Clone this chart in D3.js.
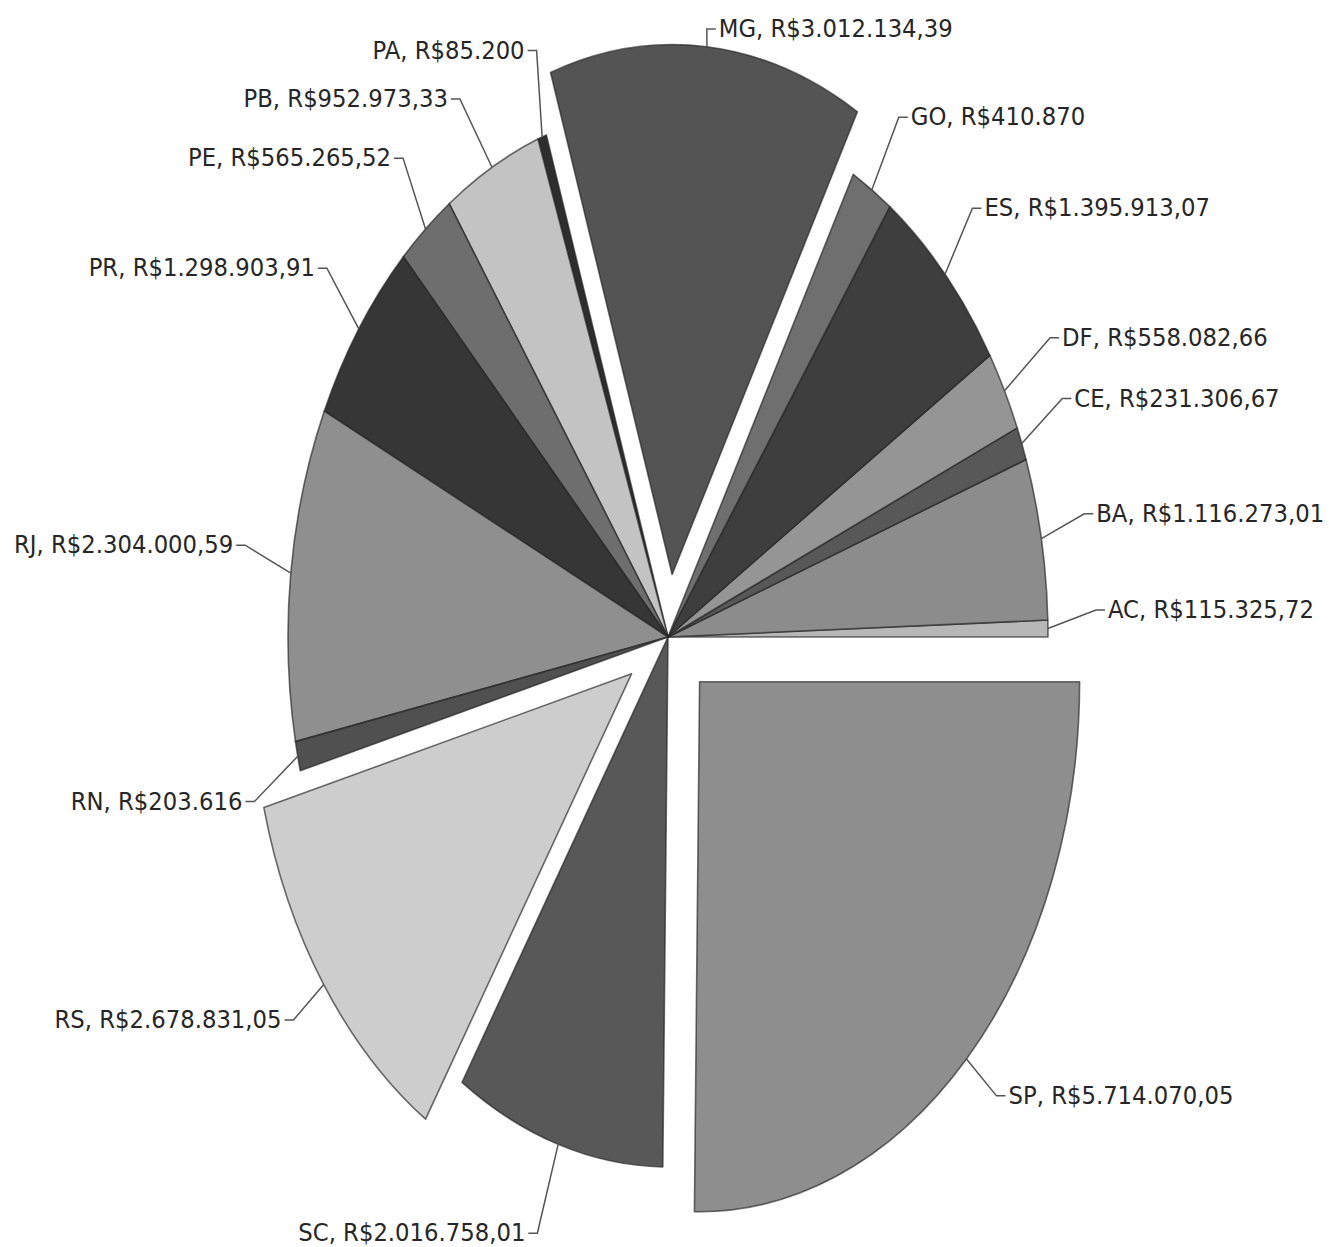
<!DOCTYPE html>
<html>
<head>
<meta charset="utf-8">
<script src="https://cdn.jsdelivr.net/npm/d3@7"></script>
<style>
  html, body { margin: 0; padding: 0; background: #ffffff; }
  svg { display: block; }
</style>
</head>
<body>
<svg id="chart" width="1329" height="1247"></svg>
<script>
// ---- data ----
const states = ["AC","BA","CE","DF","ES","GO","MG","PA","PB","PE","PR","RJ","RN","RS","SC","SP"];
const values = [115325.72, 1116273.01, 231306.67, 558082.66, 1395913.07, 410870, 3012134.39, 85200,
                952973.33, 565265.52, 1298903.91, 2304000.59, 203616, 2678831.05, 2016758.01, 5714070.05];
const explodedStates = ["MG", "RS", "SP"];

// ---- style ----
const sliceColors = ["#b7b7b7","#8c8c8c","#585858","#959595","#3e3e3e","#6f6f6f","#545454","#2e2e2e",
                     "#c3c3c3","#6e6e6e","#363636","#8f8f8f","#505050","#cdcdcd","#585858","#8e8e8e"];

// ---- layout ----
const W = 1329, H = 1247;
const cx = 668, cy = 637;
const R = 380;            // horizontal radius
const ky = 530 / 380;     // vertical stretch of the pie
const explode = 45;
const labelR = 445;
const textStretch = 1.05;
const targetLabelWidth = 225;   // width of the SP label in the reference
// small label offsets (Excel best-fit placement), px
const labelNudge = {
  AC: [-17, -17], BA: [-21, -8], CE: [-20, -12], DF: [-12, -11], ES: [-20, -4], GO: [-8, 4],
  MG: [-2, 10], PA: [16, -1], PB: [-2, 12], PE: [19, -1], PR: [21, -8], RJ: [19, -17],
  RN: [20, 25], RS: [-14, 19], SC: [-2, 2], SP: [16, 17]
};

const locale = d3.formatLocale({decimal: ",", thousands: ".", grouping: [3], currency: ["R$", ""]});
const fInt = locale.format(",d");
const fDec = locale.format(",.2f");
const money = v => "R$" + (Number.isInteger(v) ? fInt(v) : fDec(v));

const data = states.map((s, i) => ({state: s, value: values[i], color: sliceColors[i]}));

const pie = d3.pie()
  .sort(null)
  .value(d => d.value)
  .startAngle(Math.PI / 2)
  .endAngle(Math.PI / 2 - 2 * Math.PI);
const arcs = pie(data);
const arcGen = d3.arc().innerRadius(0).outerRadius(R);

const svg = d3.select("#chart");
svg.append("rect").attr("width", W).attr("height", H).attr("fill", "#ffffff");

const g = svg.append("g").attr("transform", `translate(${cx},${cy}) scale(1,${ky})`);

const mid = d => (d.startAngle + d.endAngle) / 2;
const isExp = d => explodedStates.includes(d.data.state);

g.selectAll("path.slice")
  .data(arcs)
  .join("path")
  .attr("class", "slice")
  .attr("d", arcGen)
  .attr("fill", d => d.data.color)
  .attr("stroke", "#222222")
  .attr("stroke-opacity", 0.65)
  .attr("stroke-width", 1.6)
  .attr("vector-effect", "non-scaling-stroke")
  .attr("stroke-linejoin", "round")
  .attr("transform", d => {
    if (!isExp(d)) return null;
    const a = mid(d);
    return `translate(${explode * Math.sin(a)},${-explode * Math.cos(a)})`;
  });

// font size calibrated on the rendered width
const fontFamily = "'DejaVu Sans', Verdana, sans-serif";
const probe = svg.append("text")
  .attr("font-family", fontFamily).attr("font-size", 20)
  .text("SP, " + money(values[states.indexOf("SP")]));
const probeW = probe.node().getComputedTextLength() || 200;
probe.remove();
const fontSize = 20 * targetLabelWidth / probeW;

// labels with leader lines
const px = (a, r) => cx + r * Math.sin(a);
const py = (a, r) => cy - ky * r * Math.cos(a);

const labels = arcs.map(d => {
  const a = mid(d);
  const rA = R + (isExp(d) ? explode : 0);
  const right = Math.sin(a) >= 0;
  const nz = labelNudge[d.data.state] || [0, 0];
  const lx = px(a, labelR) + nz[0], ly = py(a, labelR) + nz[1];
  return {
    d, right,
    ax: px(a, rA), ay: py(a, rA),
    lx, ly,
    tx: lx + (right ? 9 : -9),
    text: d.data.state + ", " + money(d.data.value)
  };
});

const lab = svg.append("g");
lab.selectAll("polyline")
  .data(labels)
  .join("polyline")
  .attr("points", l => `${l.ax},${l.ay} ${l.lx},${l.ly} ${l.tx},${l.ly}`)
  .attr("fill", "none")
  .attr("stroke", "#555555")
  .attr("stroke-width", 1.5);

lab.selectAll("text")
  .data(labels)
  .join("text")
  .attr("transform", l => `translate(${l.tx + (l.right ? 3 : -3)},${l.ly}) scale(1,${textStretch})`)
  .attr("dominant-baseline", "central")
  .attr("text-anchor", l => l.right ? "start" : "end")
  .attr("font-family", fontFamily)
  .attr("font-size", fontSize)
  .attr("fill", "#262626")
  .text(l => l.text);
</script>
</body>
</html>
